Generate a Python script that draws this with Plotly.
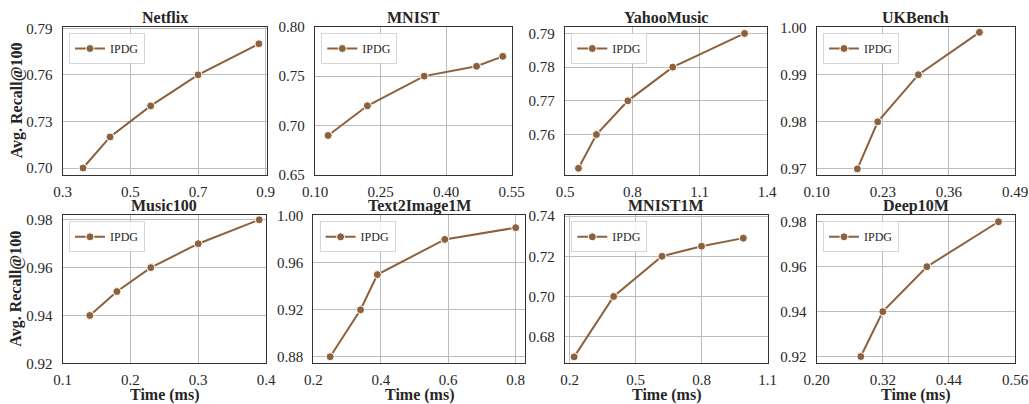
import plotly.graph_objects as go

# ---- data: query time (ms) vs. average recall@100 for each dataset ----
titles = ["Netflix", "MNIST", "YahooMusic", "UKBench",
          "Music100", "Text2Image1M", "MNIST1M", "Deep10M"]

netflix_time = [0.36, 0.44, 0.56, 0.70, 0.88]
netflix_recall = [0.70, 0.72, 0.74, 0.76, 0.78]

mnist_time = [0.13, 0.22, 0.35, 0.47, 0.53]
mnist_recall = [0.69, 0.72, 0.75, 0.76, 0.77]

yahoo_time = [0.56, 0.64, 0.78, 0.98, 1.30]
yahoo_recall = [0.75, 0.76, 0.77, 0.78, 0.79]

ukbench_time = [0.18, 0.22, 0.30, 0.42]
ukbench_recall = [0.97, 0.98, 0.99, 0.999]

music_time = [0.14, 0.18, 0.23, 0.30, 0.39]
music_recall = [0.94, 0.95, 0.96, 0.97, 0.98]

t2i_time = [0.25, 0.34, 0.39, 0.59, 0.80]
t2i_recall = [0.88, 0.92, 0.95, 0.98, 0.99]

mnist1m_time = [0.22, 0.40, 0.62, 0.80, 0.99]
mnist1m_recall = [0.67, 0.70, 0.72, 0.725, 0.729]

deep_time = [0.28, 0.32, 0.40, 0.53]
deep_recall = [0.92, 0.94, 0.96, 0.98]

# tick labels per panel
x_ticks = [
    ["0.3", "0.5", "0.7", "0.9"],
    ["0.10", "0.25", "0.40", "0.55"],
    ["0.5", "0.8", "1.1", "1.4"],
    ["0.10", "0.23", "0.36", "0.49"],
    ["0.1", "0.2", "0.3", "0.4"],
    ["0.2", "0.4", "0.6", "0.8"],
    ["0.2", "0.5", "0.8", "1.1"],
    ["0.20", "0.32", "0.44", "0.56"],
]
y_ticks = [
    ["0.70", "0.73", "0.76", "0.79"],
    ["0.65", "0.70", "0.75", "0.80"],
    ["0.76", "0.77", "0.78", "0.79"],
    ["0.97", "0.98", "0.99", "1.00"],
    ["0.92", "0.94", "0.96", "0.98"],
    ["0.88", "0.92", "0.96", "1.00"],
    ["0.68", "0.70", "0.72", "0.74"],
    ["0.92", "0.94", "0.96", "0.98"],
]

series = [
    (netflix_time, netflix_recall),
    (mnist_time, mnist_recall),
    (yahoo_time, yahoo_recall),
    (ukbench_time, ukbench_recall),
    (music_time, music_recall),
    (t2i_time, t2i_recall),
    (mnist1m_time, mnist1m_recall),
    (deep_time, deep_recall),
]

# ---- layout (pixels in a 1029 x 404 canvas) ----
W, H = 1029, 404
x_px = [(62.7, 266.7), (315, 511.5), (565, 767), (816.7, 1015),
        (62.7, 266), (313.3, 525), (565, 767.5), (816.7, 1015)]
y_px = [(26.7, 175), (215, 363.3)]
x_ranges = [(0.3, 0.903), (0.10, 0.55), (0.5, 1.4), (0.10, 0.49),
            (0.1, 0.4), (0.2, 0.8276), (0.1786, 1.1), (0.20, 0.56)]
y_ranges = [(0.6955, 0.791), (0.65, 0.80), (0.748, 0.792), (0.9687, 1.0002),
            (0.92, 0.982), (0.8744, 1.0008), (0.6668, 0.7405), (0.917, 0.983)]

LINE = "#8c613c"
TEXT = "#262626"
GRID = "#bcbcbc"
SPINE = "#333333"
FONT = "Liberation Serif"

fig = go.Figure()
layout = dict(
    template="none",
    width=W, height=H,
    margin=dict(l=0, r=0, t=0, b=0, autoexpand=False),
    paper_bgcolor="white", plot_bgcolor="white",
    font=dict(family=FONT, color=TEXT),
    showlegend=True,
    annotations=[],
)

for i, ((xs, ys), name) in enumerate(zip(series, titles)):
    n = i + 1
    row = i // 4
    x0, x1 = x_px[i]
    top, bot = y_px[row]
    xa = "x" if n == 1 else f"x{n}"
    ya = "y" if n == 1 else f"y{n}"
    leg = "legend" if n == 1 else f"legend{n}"

    fig.add_trace(go.Scatter(
        x=xs, y=ys, mode="lines+markers", name="IPDG",
        line=dict(color=LINE, width=2),
        marker=dict(color=LINE, size=8, line=dict(color="white", width=1)),
        xaxis=xa, yaxis=ya, legend=leg, cliponaxis=False, showlegend=True,
    ))

    xt = [float(t) for t in x_ticks[i]]
    yt = [float(t) for t in y_ticks[i]]
    axis_common = dict(
        showgrid=True, gridcolor=GRID, gridwidth=1,
        showline=True, linecolor=SPINE, linewidth=1.3, mirror=True,
        ticks="", zeroline=False, automargin=False,
        tickfont=dict(family=FONT, size=15, color=TEXT),
    )
    layout["xaxis" if n == 1 else f"xaxis{n}"] = dict(
        axis_common, domain=[x0 / W, x1 / W], range=list(x_ranges[i]),
        anchor=ya, tickvals=xt, ticktext=x_ticks[i], ticklabelstandoff=3,
    )
    layout["yaxis" if n == 1 else f"yaxis{n}"] = dict(
        axis_common, domain=[1 - bot / H, 1 - top / H], range=list(y_ranges[i]),
        anchor=xa, tickvals=yt, ticktext=y_ticks[i], ticklabelstandoff=6,
    )
    layout[leg] = dict(
        x=(x0 + 6.3) / W, y=1 - (top + 6.3) / H,
        xanchor="left", yanchor="top",
        bgcolor="rgba(255,255,255,0.85)", bordercolor="#d6d6d6", borderwidth=1,
        font=dict(family=FONT, size=12, color=TEXT),
        itemwidth=30, tracegroupgap=0,
    )
    # panel title
    layout["annotations"].append(dict(
        text=f"<b>{name}</b>", x=(x0 + x1) / 2 / W, y=1 - (top - 9.5) / H,
        xref="paper", yref="paper", xanchor="center", yanchor="middle",
        showarrow=False, font=dict(family=FONT, size=16, color=TEXT),
    ))
    # x-axis title on the bottom row
    if row == 1:
        layout["annotations"].append(dict(
            text="<b>Time (ms)</b>", x=(x0 + x1) / 2 / W, y=1 - 394.5 / H,
            xref="paper", yref="paper", xanchor="center", yanchor="middle",
            showarrow=False, font=dict(family=FONT, size=16, color=TEXT),
        ))
    # y-axis title on the first column
    if i % 4 == 0:
        layout["annotations"].append(dict(
            text="<b>Avg. Recall@100</b>", x=16.5 / W, y=1 - (top + bot) / 2 / H,
            xref="paper", yref="paper", xanchor="center", yanchor="middle",
            textangle=-90, showarrow=False,
            font=dict(family=FONT, size=16, color=TEXT),
        ))

fig.update_layout(**layout)
fig.write_html("out.html")
